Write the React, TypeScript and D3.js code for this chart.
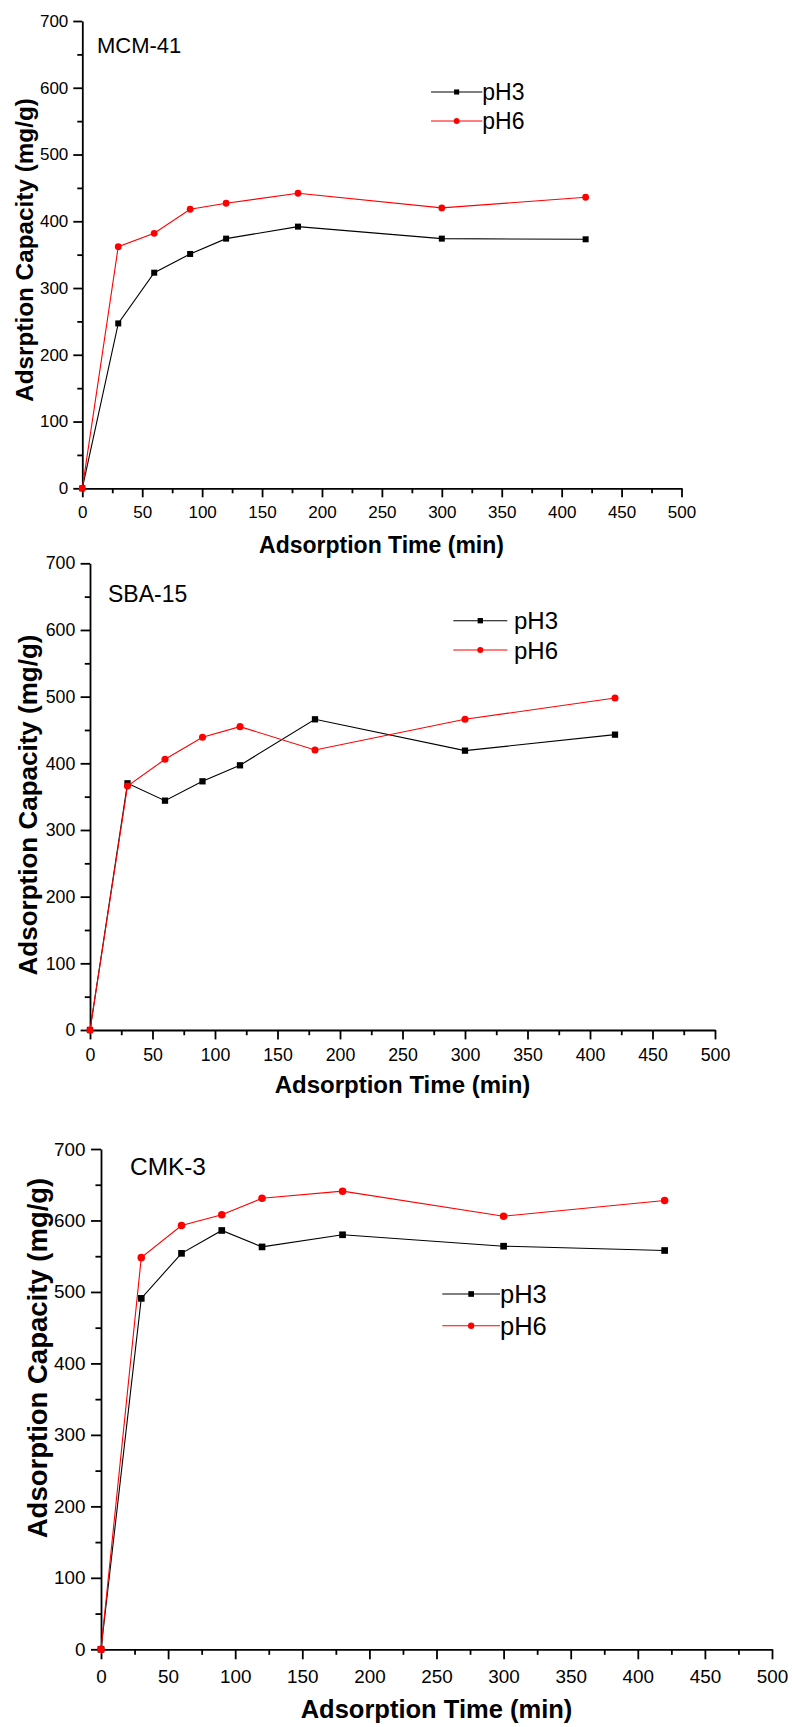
import React, { useEffect, useRef } from 'react';
import * as d3 from 'd3';

// adsorption time (min)
const times = [0, 30, 60, 90, 120, 180, 300, 420];

// adsorption capacity (mg/g)
const mcmPH3 = [0, 247, 323, 351, 374, 392, 374, 373];
const mcmPH6 = [0, 362, 382, 418, 427, 442, 420, 436];
const sbaPH3 = [0, 370, 344, 373, 397, 466, 419, 443];
const sbaPH6 = [0, 366, 406, 439, 455, 420, 466, 498];
const cmkPH3 = [0, 491, 554, 586, 563, 580, 564, 558];
const cmkPH6 = [0, 548, 593, 608, 631, 641, 606, 628];

const seriesNames = ['pH3', 'pH6'];
const seriesColors = ['#000000', '#ff0000'];

const xTicks = [0, 50, 100, 150, 200, 250, 300, 350, 400, 450, 500];
const xMinor = [25, 75, 125, 175, 225, 275, 325, 375, 425, 475];
const yTicks = [0, 100, 200, 300, 400, 500, 600, 700];
const yMinor = [50, 150, 250, 350, 450, 550, 650];

const FONT = '"Liberation Sans", Arial, Helvetica, sans-serif';

const panels = [
  {
    name: 'MCM-41', yTitle: 'Adsrption Capacity (mg/g)', values: [mcmPH3, mcmPH6],
    x0: 82.3, x1: 681.5, yTop: 21, yBot: 488.3, k: 1,
    label: [97, 53.3], legend: { lx0: 431, lx1: 482.3, ly: 92, dy: 29, tx: 482.3 },
    xTitle: [381.5, 552.7], yTitleXY: [33, 250], yTitleSize: 24.3,
  },
  {
    name: 'SBA-15', yTitle: 'Adsorption Capacity (mg/g)', values: [sbaPH3, sbaPH6],
    x0: 90, x1: 715, yTop: 563.3, yBot: 1030, k: 1.045,
    label: [108, 602.3], legend: { lx0: 453.3, lx1: 507.3, ly: 620.7, dy: 29.3, tx: 514 },
    xTitle: [402.5, 1093], yTitleXY: [37, 805], yTitleSize: 26,
  },
  {
    name: 'CMK-3', yTitle: 'Adsorption Capacity (mg/g)', values: [cmkPH3, cmkPH6],
    x0: 101, x1: 772, yTop: 1149, yBot: 1649.3, k: 1.11,
    label: [130, 1175], legend: { lx0: 442.3, lx1: 500, ly: 1294, dy: 31.7, tx: 500 },
    xTitle: [436.5, 1718], yTitleXY: [47, 1358], yTitleSize: 27.5,
  },
];

function drawMarker(g, type, x, y, color, k) {
  if (type === 0) {
    const s = 6 * k;
    g.append('rect').attr('x', x - s / 2).attr('y', y - s / 2)
      .attr('width', s).attr('height', s).attr('fill', color);
  } else {
    g.append('circle').attr('cx', x).attr('cy', y).attr('r', 3.4 * k).attr('fill', color);
  }
}

function App() {
  const ref = useRef(null);

  useEffect(() => {
    const svg = d3.select(ref.current);
    svg.selectAll('*').remove();

    panels.forEach((p) => {
      const g = svg.append('g');
      const x = d3.scaleLinear().domain([0, 500]).range([p.x0, p.x1]);
      const y = d3.scaleLinear().domain([0, 700]).range([p.yBot, p.yTop]);
      const tickFont = 17 * p.k;

      // X axis
      const xAxis = g.append('g').attr('transform', `translate(0,${p.yBot})`)
        .call(d3.axisBottom(x).tickValues(xTicks).tickSize(9 * p.k).tickSizeOuter(0)
          .tickPadding(9 * p.k).tickFormat(d3.format('d')));
      g.append('g').attr('transform', `translate(0,${p.yBot})`)
        .call(d3.axisBottom(x).tickValues(xMinor).tickSize(5 * p.k).tickFormat(() => ''))
        .select('.domain').remove();

      // Y axis
      const yAxis = g.append('g').attr('transform', `translate(${p.x0},0)`)
        .call(d3.axisLeft(y).tickValues(yTicks).tickSize(9 * p.k).tickSizeOuter(0)
          .tickPadding(5 * p.k).tickFormat(d3.format('d')));
      g.append('g').attr('transform', `translate(${p.x0},0)`)
        .call(d3.axisLeft(y).tickValues(yMinor).tickSize(5 * p.k).tickFormat(() => ''))
        .select('.domain').remove();

      g.selectAll('.domain, .tick line').attr('stroke', '#000').attr('stroke-width', 1.8);
      [xAxis, yAxis].forEach((a) => a.selectAll('text')
        .attr('font-family', FONT).attr('font-size', tickFont).attr('fill', '#000'));

      // series
      p.values.forEach((vals, si) => {
        const pts = times.map((t, i) => [x(t), y(vals[i])]);
        g.append('path').attr('d', d3.line()(pts))
          .attr('fill', 'none').attr('stroke', seriesColors[si]).attr('stroke-width', 1.1);
        pts.forEach(([px, py]) => drawMarker(g, si, px, py, seriesColors[si], p.k));
      });

      // panel label
      g.append('text').attr('x', p.label[0]).attr('y', p.label[1])
        .attr('font-family', FONT).attr('font-size', 22 * p.k).text(p.name);

      // legend
      const L = p.legend;
      seriesNames.forEach((nm, si) => {
        const ly = L.ly + si * L.dy;
        g.append('line').attr('x1', L.lx0).attr('x2', L.lx1).attr('y1', ly).attr('y2', ly)
          .attr('stroke', seriesColors[si]).attr('stroke-width', 1.1);
        drawMarker(g, si, (L.lx0 + L.lx1) / 2, ly, seriesColors[si], p.k * 0.85);
        g.append('text').attr('x', L.tx).attr('y', ly + 8.3 * p.k)
          .attr('font-family', FONT).attr('font-size', 23 * p.k).text(nm);
      });

      // axis titles
      g.append('text').attr('x', p.xTitle[0]).attr('y', p.xTitle[1])
        .attr('text-anchor', 'middle').attr('font-family', FONT).attr('font-weight', 'bold')
        .attr('font-size', 23 * p.k).text('Adsorption Time (min)');
      g.append('text')
        .attr('transform', `translate(${p.yTitleXY[0]},${p.yTitleXY[1]}) rotate(-90)`)
        .attr('text-anchor', 'middle').attr('font-family', FONT).attr('font-weight', 'bold')
        .attr('font-size', p.yTitleSize).text(p.yTitle);
    });
  }, []);

  return (
    <svg ref={ref} width={792} height={1727}
      style={{ position: 'absolute', left: 0, top: 0, background: '#fff' }} />
  );
}

export default App;
